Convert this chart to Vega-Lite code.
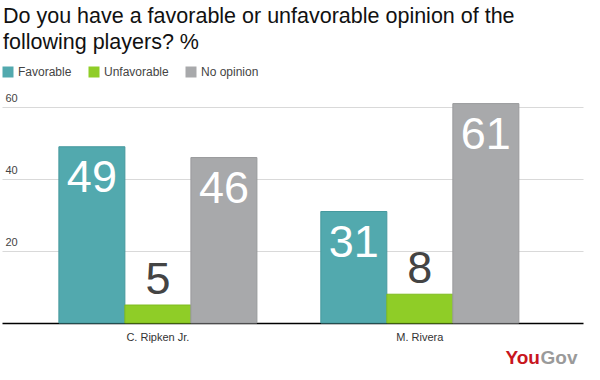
{
  "$schema": "https://vega.github.io/schema/vega-lite/v6.json",
  "autosize": "none",
  "width": 581,
  "height": 223,
  "padding": {"left": 2, "top": 100, "right": 17, "bottom": 57},
  "background": "white",
  "config": {
    "font": "Liberation Sans",
    "view": {"stroke": null}
  },
  "title": {
    "text": ["Do you have a favorable or unfavorable opinion of the", "following players? %"],
    "anchor": "start",
    "frame": "group",
    "fontSize": 21.5,
    "fontWeight": "normal",
    "color": "#111111",
    "lineHeight": 26,
    "offset": 13,
    "dx": 1
  },
  "data": {
    "values": [
      {"player": "C. Ripken Jr.", "opinion": "Favorable", "pct": 49},
      {"player": "C. Ripken Jr.", "opinion": "Unfavorable", "pct": 5},
      {"player": "C. Ripken Jr.", "opinion": "No opinion", "pct": 46},
      {"player": "M. Rivera", "opinion": "Favorable", "pct": 31},
      {"player": "M. Rivera", "opinion": "Unfavorable", "pct": 8},
      {"player": "M. Rivera", "opinion": "No opinion", "pct": 61}
    ]
  },
  "encoding": {
    "x": {
      "field": "player",
      "type": "nominal",
      "sort": ["C. Ripken Jr.", "M. Rivera"],
      "scale": {"paddingInner": 0.244, "paddingOuter": 0.231, "align": 0.47},
      "axis": {
        "title": "You",
        "titleX": 503,
        "titleY": 40,
        "titleAlign": "left",
        "titleBaseline": "alphabetic",
        "titleColor": "#c8161e",
        "titleFontSize": 19,
        "titleFontWeight": "bold",
        "labelAngle": 0,
        "labelFontSize": 11,
        "labelColor": "#333333",
        "labelPadding": 8,
        "ticks": false,
        "domainColor": "#000000",
        "domainWidth": 1.5
      }
    },
    "xOffset": {
      "field": "opinion",
      "type": "nominal",
      "sort": ["Favorable", "Unfavorable", "No opinion"],
      "scale": {"paddingInner": 0, "paddingOuter": 0}
    },
    "y": {
      "field": "pct",
      "type": "quantitative",
      "scale": {"domain": [0, 62], "nice": false},
      "axis": {
        "title": "Gov",
        "titleAngle": 0,
        "titleX": 538,
        "titleY": 263,
        "titleAlign": "left",
        "titleBaseline": "alphabetic",
        "titleColor": "#9a9a9a",
        "titleFontSize": 19,
        "titleFontWeight": "bold",
        "values": [20, 40, 60],
        "domain": false,
        "ticks": false,
        "labelAlign": "left",
        "labelPadding": -3,
        "labelBaseline": "alphabetic",
        "labelOffset": -6,
        "labelFontSize": 11,
        "labelColor": "#444444",
        "gridColor": "#d9d9d9",
        "gridWidth": 1
      }
    }
  },
  "layer": [
    {
      "mark": {"type": "bar", "strokeWidth": 1},
      "encoding": {
        "color": {
          "field": "opinion",
          "type": "nominal",
          "sort": ["Favorable", "Unfavorable", "No opinion"],
          "scale": {"domain": ["Favorable", "Unfavorable", "No opinion"], "range": ["#52a9ae", "#8fcd27", "#a8a9ab"]},
          "legend": {
            "title": null,
            "orient": "none",
            "legendX": 0,
            "legendY": -34,
            "direction": "horizontal",
            "symbolType": "square",
            "symbolSize": 121,
            "symbolStrokeWidth": 0,
            "symbolOpacity": 1,
            "labelFontSize": 12,
            "labelColor": "#444444",
            "labelOffset": 4,
            "columnPadding": 16
          }
        },
        "stroke": {
          "field": "opinion",
          "type": "nominal",
          "scale": {"domain": ["Favorable", "Unfavorable", "No opinion"], "range": ["#46999e", "#7fbb1f", "#999a9c"]},
          "legend": null
        }
      }
    },
    {
      "transform": [{"filter": "datum.pct >= 20"}],
      "mark": {"type": "text", "baseline": "alphabetic", "align": "center", "dy": 45, "fontSize": 45, "color": "#ffffff"},
      "encoding": {"text": {"field": "pct", "type": "quantitative"}}
    },
    {
      "transform": [{"filter": "datum.pct < 20"}],
      "mark": {"type": "text", "baseline": "alphabetic", "align": "center", "dy": -11, "fontSize": 45, "color": "#444444"},
      "encoding": {"text": {"field": "pct", "type": "quantitative"}}
    }
  ]
}
